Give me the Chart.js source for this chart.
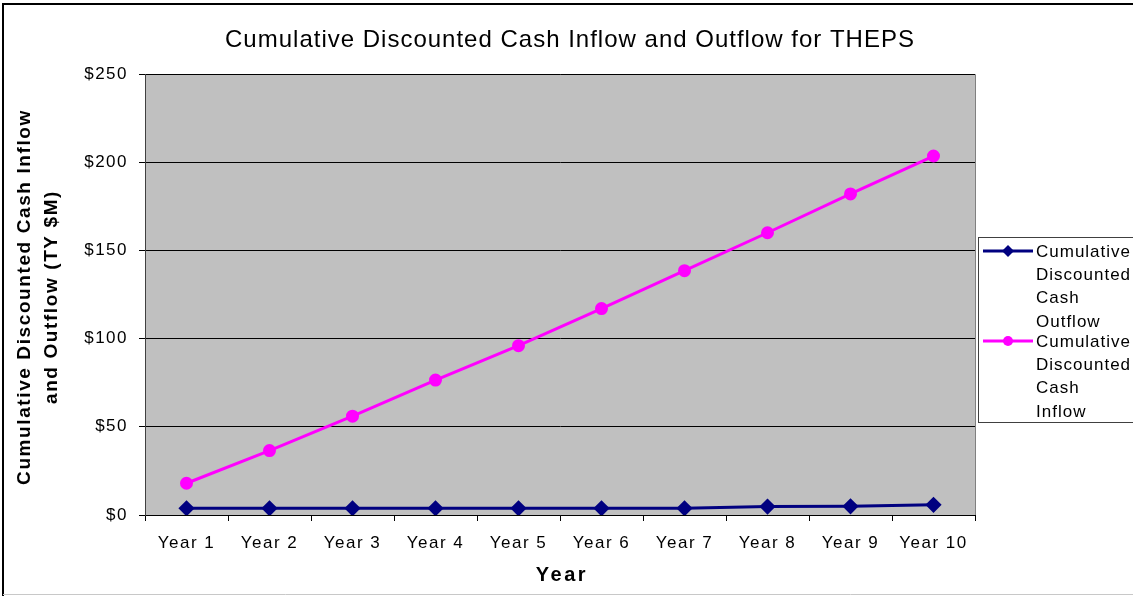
<!DOCTYPE html>
<html>
<head>
<meta charset="utf-8">
<script src="https://cdn.jsdelivr.net/npm/chart.js@4/dist/chart.umd.min.js"></script>
<style>
  html, body { margin: 0; padding: 0; background: #fff; }
  #wrap { position: relative; width: 1133px; height: 596px; }
</style>
</head>
<body>
<div id="wrap"><canvas id="c" width="1133" height="596"></canvas></div>
<script>
// Chart data
const years = ['Year 1', 'Year 2', 'Year 3', 'Year 4', 'Year 5', 'Year 6', 'Year 7', 'Year 8', 'Year 9', 'Year 10'];
const cumulativeOutflow = [3.8, 3.8, 3.8, 3.8, 3.8, 3.8, 3.8, 4.8, 4.9, 5.8];
const cumulativeInflow = [18, 36.5, 56, 76.5, 96, 117, 138.5, 160, 182, 203.5];
const yTicks = [0, 50, 100, 150, 200, 250];

const chartTitle = 'Cumulative Discounted Cash Inflow and Outflow for THEPS';
const yTitleLines = ['Cumulative Discounted Cash Inflow', 'and Outflow (TY $M)'];
const xTitle = 'Year';
const legendItems = [
  { lines: ['Cumulative', 'Discounted', 'Cash', 'Outflow'], color: '#000080', marker: 'diamond' },
  { lines: ['Cumulative', 'Discounted', 'Cash', 'Inflow'], color: '#FF00FF', marker: 'circle' }
];

const FONT = '"Liberation Sans", Arial, sans-serif';

// Frame, plot background, titles and legend
const decorations = {
  id: 'decorations',
  beforeDraw(chart) {
    const { ctx, chartArea: a } = chart;
    ctx.save();
    ctx.fillStyle = '#ffffff';
    ctx.fillRect(0, 0, chart.width, chart.height);
    // outer frame
    ctx.strokeStyle = '#000000';
    ctx.lineWidth = 2;
    ctx.beginPath();
    ctx.moveTo(3, 596);
    ctx.lineTo(3, 4);
    ctx.lineTo(1133, 4);
    ctx.stroke();
    ctx.strokeStyle = '#c8c8c8';
    ctx.lineWidth = 1;
    ctx.beginPath();
    ctx.moveTo(3, 594.5);
    ctx.lineTo(1133, 594.5);
    ctx.stroke();
    // plot area
    ctx.fillStyle = '#C0C0C0';
    ctx.fillRect(a.left, a.top, a.right - a.left, a.bottom - a.top);
    ctx.strokeStyle = '#808080';
    ctx.lineWidth = 1;
    ctx.beginPath();
    ctx.moveTo(a.left, a.top + 0.5);
    ctx.lineTo(a.right + 0.5, a.top + 0.5);
    ctx.lineTo(a.right + 0.5, a.bottom);
    ctx.stroke();
    ctx.restore();
    // wider tracking for the axis tick labels
    ctx.letterSpacing = '1.5px';
  },
  afterDraw(chart) {
    const { ctx } = chart;
    ctx.save();
    ctx.fillStyle = '#000000';
    ctx.textAlign = 'center';
    ctx.textBaseline = 'middle';
    ctx.letterSpacing = '1px';
    ctx.font = '24px ' + FONT;
    ctx.fillText(chartTitle, 570, 40);
    ctx.letterSpacing = '2.5px';
    ctx.font = 'bold 20px ' + FONT;
    ctx.fillText(xTitle, 562, 575);
    // rotated y title
    ctx.save();
    ctx.translate(0, 297);
    ctx.rotate(-Math.PI / 2);
    ctx.letterSpacing = '1.6px';
    ctx.font = 'bold 19px ' + FONT;
    ctx.fillText(yTitleLines[0], 0, 25);
    ctx.fillText(yTitleLines[1], 0, 52);
    ctx.restore();

    // legend box
    const lx = 978, ly = 237, lw = 160, lh = 185;
    ctx.fillStyle = '#ffffff';
    ctx.fillRect(lx, ly, lw, lh);
    ctx.strokeStyle = '#404040';
    ctx.lineWidth = 1;
    ctx.strokeRect(lx + 0.5, ly + 0.5, lw, lh);
    ctx.letterSpacing = '1px';
    ctx.font = '17px ' + FONT;
    ctx.textAlign = 'left';
    const starts = [251, 341];
    legendItems.forEach((item, i) => {
      const y = starts[i];
      ctx.strokeStyle = item.color;
      ctx.lineWidth = 3;
      ctx.beginPath();
      ctx.moveTo(983, y);
      ctx.lineTo(1033, y);
      ctx.stroke();
      ctx.fillStyle = item.color;
      ctx.beginPath();
      if (item.marker === 'diamond') {
        ctx.moveTo(1008, y - 6);
        ctx.lineTo(1014, y);
        ctx.lineTo(1008, y + 6);
        ctx.lineTo(1002, y);
        ctx.closePath();
      } else {
        ctx.arc(1008, y, 5, 0, Math.PI * 2);
      }
      ctx.fill();
      ctx.fillStyle = '#000000';
      const gaps = [1, 24, 47, 71];
      item.lines.forEach((t, k) => ctx.fillText(t, 1036, y + gaps[k]));
    });
    ctx.restore();
    ctx.letterSpacing = '0px';
  }
};

new Chart(document.getElementById('c'), {
  type: 'line',
  data: {
    labels: years,
    datasets: [
      {
        label: 'Cumulative Discounted Cash Outflow',
        data: cumulativeOutflow,
        borderColor: '#000080',
        backgroundColor: '#000080',
        borderWidth: 3,
        pointStyle: 'rectRot',
        pointRadius: 6,
        pointHoverRadius: 6,
        tension: 0
      },
      {
        label: 'Cumulative Discounted Cash Inflow',
        data: cumulativeInflow,
        borderColor: '#FF00FF',
        backgroundColor: '#FF00FF',
        borderWidth: 3,
        pointStyle: 'circle',
        pointRadius: 5,
        pointHoverRadius: 5,
        tension: 0
      }
    ]
  },
  options: {
    responsive: false,
    animation: false,
    events: [],
    layout: { padding: { top: 74, right: 158, bottom: 0, left: 0 } },
    plugins: {
      legend: { display: false },
      title: { display: false },
      tooltip: { enabled: false }
    },
    scales: {
      x: {
        offset: true,
        grid: {
          offset: true,
          drawOnChartArea: false,
          drawTicks: true,
          tickLength: 6,
          color: '#000000'
        },
        border: { color: '#000000', width: 1 },
        ticks: {
          color: '#000000',
          font: { family: FONT, size: 17 },
          padding: 12,
          maxRotation: 0,
          autoSkip: false
        },
        afterFit(scale) { scale.height = 81; }
      },
      y: {
        min: 0,
        max: 250,
        afterBuildTicks(scale) { scale.ticks = yTicks.map(v => ({ value: v })); },
        grid: {
          color: '#000000',
          lineWidth: 1,
          tickLength: 6,
          drawTicks: true
        },
        border: { color: '#404040', width: 1 },
        ticks: {
          color: '#000000',
          font: { family: FONT, size: 17 },
          padding: 11,
          callback: v => '$' + v
        },
        afterFit(scale) { scale.width = 145; }
      }
    }
  },
  plugins: [decorations]
});
</script>
</body>
</html>
